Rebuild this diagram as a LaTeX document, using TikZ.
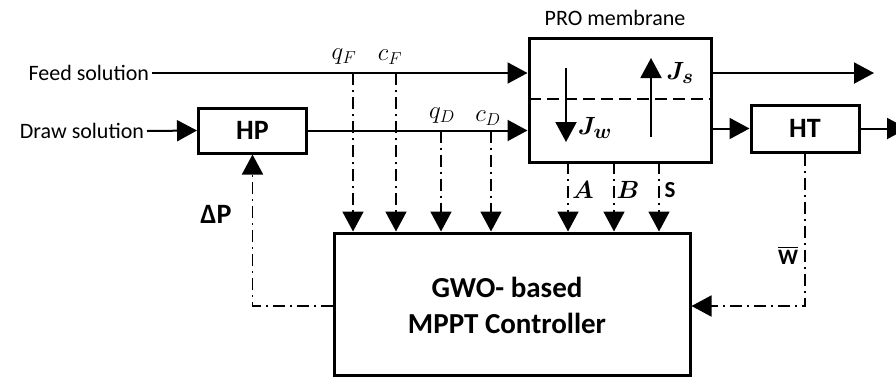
\documentclass[tikz,border=0pt]{standalone}
\usepackage{amsmath}
\usepackage{fontspec}
\setmainfont{Carlito}
\usetikzlibrary{arrows.meta}

\begin{document}
\begin{tikzpicture}[x=1pt, y=-1pt, >={Triangle[length=20pt,width=21pt]}, line width=2pt,
  blk/.style={draw, line width=3pt, inner sep=0pt},
  sig/.style={->, line width=1.8pt, dash pattern=on 12pt off 5pt on 2pt off 5pt},
  txt/.style={font=\fontsize{22}{26}\selectfont},
  mth/.style={font=\fontsize{26}{30}\selectfont, inner sep=1pt},
  lbl/.style={font=\fontsize{28}{34}\selectfont\bfseries}]

\useasboundingbox (0,0) rectangle (896,376);

% Blocks
\node[blk, lbl, minimum width=108pt, minimum height=45pt] (hp) at (252.5,130.5) {HP};
\node[blk, minimum width=182pt, minimum height=124pt] (pro) at (620,100) {};
\node[blk, lbl, minimum width=108pt, minimum height=47pt] (ht) at (805,128.5) {HT};
\node[blk, minimum width=356pt, minimum height=142pt] (ctrl) at (512,304) {};
\node[lbl, font=\fontsize{29}{36}\selectfont\bfseries, align=center] (ctrltxt) at (507,305)
  {GWO- based\\MPPT Controller};
\node[txt] (protxt) at (615,18) {PRO membrane};

% Inlets
\node[txt, anchor=east, inner sep=2pt] (feedsol) at (152,73) {Feed solution};
\node[txt, anchor=east, inner sep=2pt] (drawsol) at (147,131) {Draw solution};

% Coordinates
\coordinate (fout) at (874,73);
\coordinate (hout) at (907,128.5);
\coordinate (m1) at (529,99);
\coordinate (m2) at (711,99);
\coordinate (jw1) at (566,68);
\coordinate (jw2) at (566,142);
\coordinate (js1) at (651,137);
\coordinate (js2) at (651,58);
\coordinate (qfa) at (353,73);
\coordinate (cfa) at (396,73);
\coordinate (qda) at (441,130.5);
\coordinate (cda) at (491,130.5);
\coordinate (pa) at (568,162);
\coordinate (pb) at (614,162);
\coordinate (ps) at (659,162);
\coordinate (dpc) at (252.5,306);
\coordinate (wc) at (805,306);

% Solution flows
\draw[->] (feedsol.east) -- (feedsol.east -| pro.west);
\draw[->] (pro.east |- fout) -- (fout);
\draw[->] (drawsol.east) -- (hp.west);
\draw[->] (hp.east) -- (hp.east -| pro.west);
\draw[->] (pro.east |- ht.west) -- (ht.west);
\draw[->] (ht.east) -- (hout);

% Membrane
\draw[dash pattern=on 12pt off 6pt] (m1) -- (m2);
\draw[->] (jw1) -- (jw2);
\draw[->] (js1) -- (js2);
\node[mth, font=\fontsize{29}{32}\selectfont] (jw) at (595,128) {$\boldsymbol{J_w}$};
\node[mth, font=\fontsize{29}{32}\selectfont] (js) at (680,73) {$\boldsymbol{J_s}$};

% Measured signals
\draw[sig] (qfa) -- (qfa |- ctrl.north);
\draw[sig] (cfa) -- (cfa |- ctrl.north);
\draw[sig] (qda) -- (qda |- ctrl.north);
\draw[sig] (cda) -- (cda |- ctrl.north);
\node[mth] (qf) at (344,57) {$q_F$};
\node[mth] (cf) at (390,57) {$c_F$};
\node[mth] (qd) at (442,116) {$q_D$};
\node[mth] (cd) at (488,118) {$c_D$};

% Membrane parameters
\draw[sig] (pa) -- (pa |- ctrl.north);
\draw[sig] (pb) -- (pb |- ctrl.north);
\draw[sig] (ps) -- (ps |- ctrl.north);
\node[mth] (la) at (583,190) {$\boldsymbol{A}$};
\node[mth] (lb) at (628,190) {$\boldsymbol{B}$};
\node[txt, font=\fontsize{23}{26}\selectfont\bfseries, inner sep=1pt] (ls) at (670,190) {S};

% Feedback loops
\draw[sig] (ctrl.west |- dpc) -- (dpc) -- (hp.south);
\draw[sig] (ht.south) -- (wc) -- (wc -| ctrl.east);
\node[lbl] (dp) at (216,214) {ΔP};
\node[txt, inner sep=1pt] (wbar) at (788,255) {$\overline{\text{\bfseries W}}$};

\end{tikzpicture}
\end{document}
